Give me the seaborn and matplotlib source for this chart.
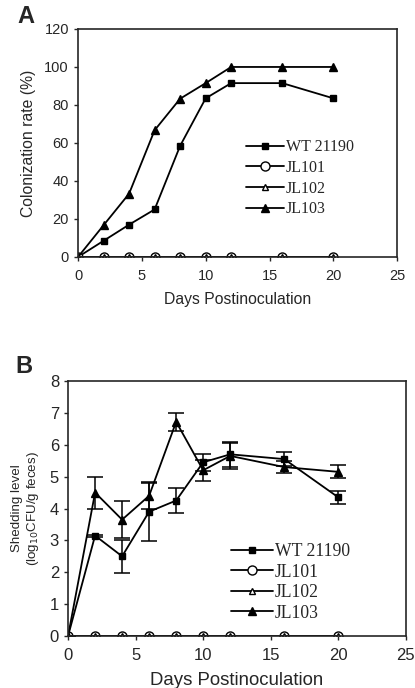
#!/usr/bin/env python3
''' Colonization rate (A) and shedding level (B) of C. difficile strains over days postinoculation. '''

import numpy as np
import pandas as pd
import matplotlib
matplotlib.use('Agg')
import matplotlib.pyplot as plt
import seaborn as sns

days = [0, 2, 4, 6, 8, 10, 12, 16, 20]
strains = ['WT 21190', 'JL101', 'JL102', 'JL103']

# panel A: colonization rate (%)
col_wt = [0, 8.5, 17, 25, 58.5, 83.5, 91.5, 91.5, 83.5]
col_jl101 = [0, 0, 0, 0, 0, 0, 0, 0, 0]
col_jl102 = [0, 0, 0, 0, 0, 0, 0, 0, 0]
col_jl103 = [0, 16.7, 33.3, 66.7, 83.3, 91.5, 100, 100, 100]

# panel B: shedding level (log10 CFU/g feces) and error bars
shed_wt = [0, 3.15, 2.5, 3.9, 4.25, 5.45, 5.7, 5.55, 4.35]
shed_wt_err = [0, 0.03, 0.52, 0.92, 0.4, 0.27, 0.4, 0.22, 0.2]
shed_jl101 = [0, 0, 0, 0, 0, 0, 0, 0, 0]
shed_jl102 = [0, 0, 0, 0, 0, 0, 0, 0, 0]
shed_jl103 = [0, 4.5, 3.65, 4.4, 6.72, 5.2, 5.65, 5.3, 5.15]
shed_jl103_err = [0, 0.5, 0.58, 0.4, 0.28, 0.33, 0.4, 0.2, 0.2]

sns.set_style('ticks')
plt.rcParams['font.family'] = ['Liberation Sans', 'DejaVu Sans']

styles = {
    'WT 21190': dict(marker='s', markersize=4.5, markerfacecolor='black'),
    'JL101': dict(marker='o', markersize=6.5, markerfacecolor='white'),
    'JL102': dict(marker='^', markersize=4.5, markerfacecolor='white'),
    'JL103': dict(marker='^', markersize=6, markerfacecolor='black'),
}

fig = plt.figure(figsize=(4.15, 6.88), dpi=100)
axA = fig.add_axes([0.188, 0.6265, 0.769, 0.3314])
axB = fig.add_axes([0.164, 0.0756, 0.814, 0.3706])


def draw(ax, series, tick_size, label_size, errs=None):
    for name, vals in zip(strains, series):
        sns.lineplot(x=days, y=vals, ax=ax, color='black', linewidth=1.3,
                     markeredgecolor='black', markeredgewidth=1.0,
                     label=name, **styles[name])
    if errs is not None:
        for vals, e in errs:
            ax.errorbar(days, vals, yerr=e, fmt='none', ecolor='black',
                        elinewidth=1.1, capsize=6, capthick=1.1)
    for s in ax.spines.values():
        s.set_linewidth(1.2)
        s.set_visible(True)
    ax.tick_params(direction='out', length=3, width=1, labelsize=tick_size)
    ax.tick_params(axis='x', pad=6)
    ax.set_xlim(0, 25)
    ax.set_xticks([0, 5, 10, 15, 20, 25])
    ax.set_xlabel('Days Postinoculation', fontsize=label_size, labelpad=6)


draw(axA, [col_wt, col_jl101, col_jl102, col_jl103], 10.5, 11.3)
axA.set_ylim(0, 120)
axA.set_yticks(range(0, 121, 20))
axA.set_ylabel('Colonization rate (%)', fontsize=11.3, labelpad=6)
axA.legend(loc='upper left', bbox_to_anchor=(0.48, 0.58), frameon=False,
           prop={'family': 'Liberation Serif', 'size': 11.5},
           handlelength=2.4, handletextpad=0.1, labelspacing=0.3)

draw(axB, [shed_wt, shed_jl101, shed_jl102, shed_jl103], 12, 13.4,
     errs=[(shed_wt, shed_wt_err), (shed_jl103, shed_jl103_err)])
axB.set_ylim(0, 8)
axB.set_yticks(range(0, 9))
axB.set_ylabel('Shedding level\n(log$_{10}$CFU/g feces)', fontsize=9.6, labelpad=6,
               linespacing=1.2)
axB.legend(loc='upper left', bbox_to_anchor=(0.435, 0.427), frameon=False,
           prop={'family': 'Liberation Serif', 'size': 12.7},
           handlelength=2.4, handletextpad=0.1, labelspacing=0.2)

fig.text(0.043, 0.993, 'A', fontsize=17, fontweight='bold', va='top')
fig.text(0.036, 0.484, 'B', fontsize=17, fontweight='bold', va='top')

fig.savefig('out.png', dpi=100)
plt.close()
